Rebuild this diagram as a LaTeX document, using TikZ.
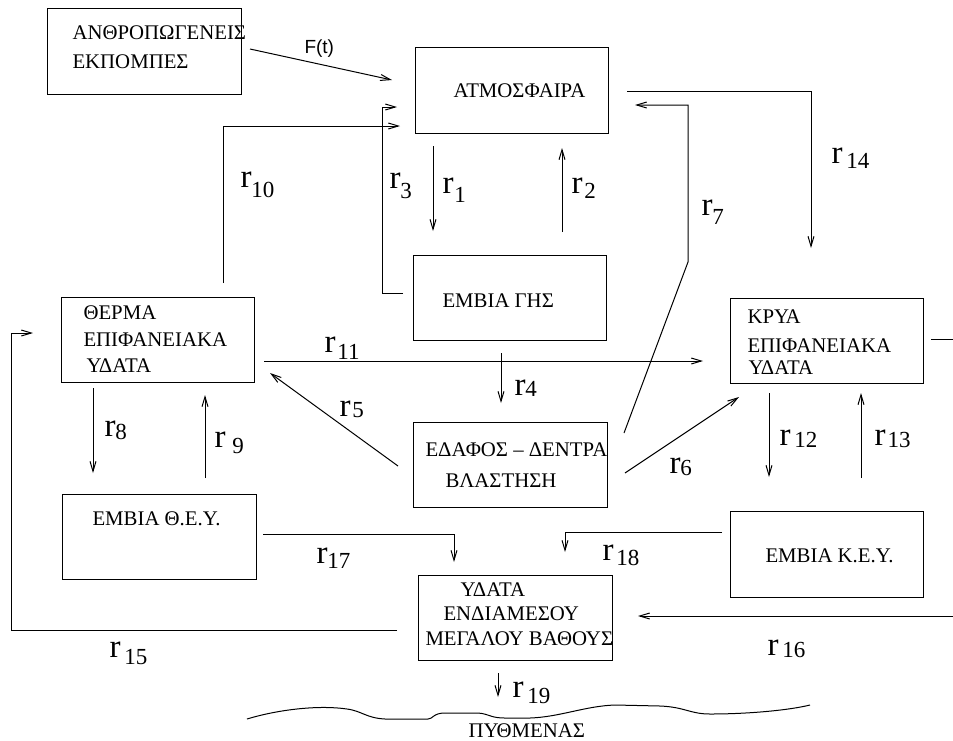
\documentclass[tikz,border=0pt]{standalone}
\usepackage{fontspec}
\setmainfont{Liberation Serif}
\newfontfamily\sansf{Liberation Sans}
\usetikzlibrary{arrows.meta}
\newcommand{\rlab}[3]{\fontsize{33}{33}\selectfont r\hspace{#3pt}\raisebox{-#2pt}{\fontsize{23}{23}\selectfont #1}}
\begin{document}
\begin{tikzpicture}[x=1pt,y=-1pt,line width=1pt,
  box/.style={draw,line width=1pt,inner sep=0pt,minimum width=#1},
  boxtxt/.style={anchor=base west,inner sep=0pt,font=\fontsize{20.8}{20.8}\selectfont},
  lab/.style={anchor=base west,inner sep=0pt},
  arr/.style={-{Straight Barb[length=10pt,width=6pt]}},
  ln/.style={line width=1pt}]
\useasboundingbox (0,0) rectangle (953,740);

% boxes
\node[box=194pt,minimum height=86pt] (anthro) at (144,51) {};
\node[box=193pt,minimum height=86pt] (atmo) at (511.5,90) {};
\node[box=193pt,minimum height=85pt] (gis) at (509.5,297.5) {};
\node[box=193pt,minimum height=85pt] (therma) at (157.5,339.5) {};
\node[box=193pt,minimum height=85pt] (krya) at (826.5,340.5) {};
\node[box=194pt,minimum height=85pt] (edafos) at (510,464.5) {};
\node[box=194pt,minimum height=85pt] (embth) at (159,536.5) {};
\node[box=193pt,minimum height=86pt] (embk) at (826.5,554) {};
\node[box=194pt,minimum height=85pt] (ydata) at (515,617.5) {};

% box texts
\node[boxtxt] (t1a) at (72,39) {ΑΝΘΡΟΠΩΓΕΝΕΙΣ};
\node[boxtxt] (t1b) at (72,68) {ΕΚΠΟΜΠΕΣ};
\node[boxtxt] (t2) at (453,97) {ΑΤΜΟΣΦΑΙΡΑ};
\node[boxtxt] (t3) at (442,307) {ΕΜΒΙΑ ΓΗΣ};
\node[boxtxt] (t4a) at (83,319) {ΘΕΡΜΑ};
\node[boxtxt] (t4b) at (83,346) {ΕΠΙΦΑΝΕΙΑΚΑ};
\node[boxtxt] (t4c) at (86,372) {ΥΔΑΤΑ};
\node[boxtxt] (t5a) at (747,323) {ΚΡΥΑ};
\node[boxtxt] (t5b) at (747,352) {ΕΠΙΦΑΝΕΙΑΚΑ};
\node[boxtxt] (t5c) at (748,374) {ΥΔΑΤΑ};
\node[boxtxt] (t6a) at (425,456) {ΕΔΑΦΟΣ – ΔΕΝΤΡΑ};
\node[boxtxt] (t6b) at (445,487) {ΒΛΑΣΤΗΣΗ};
\node[boxtxt] (t7) at (92,525) {ΕΜΒΙΑ Θ.Ε.Υ.};
\node[boxtxt] (t8) at (765,562) {ΕΜΒΙΑ Κ.Ε.Υ.};
\node[boxtxt] (t9a) at (460,596) {ΥΔΑΤΑ};
\node[boxtxt] (t9b) at (443,620) {ΕΝΔΙΑΜΕΣΟΥ};
\node[boxtxt] (t9c) at (425,645) {ΜΕΓΑΛΟΥ ΒΑΘΟΥΣ};
\node[boxtxt] (t10) at (468,737) {ΠΥΘΜΕΝΑΣ};
\node[lab,font=\sansf\fontsize{19}{19}\selectfont] (ft) at (304,53) {F(t)};

% connector end points
\coordinate (Fs) at (250,49);   \coordinate (Fe) at (392,80);
\coordinate (r10s) at (223,283); \coordinate (r10c) at (223,126); \coordinate (r10e) at (400,126);
\coordinate (r3s) at (403,293); \coordinate (r3c1) at (382,293); \coordinate (r3c2) at (382,107); \coordinate (r3e) at (397,107);
\coordinate (r1s) at (433,146); \coordinate (r1e) at (433,231);
\coordinate (r2s) at (562,232); \coordinate (r2e) at (562,148);
\coordinate (r7s) at (624,433); \coordinate (r7c1) at (688,262); \coordinate (r7c2) at (688,105); \coordinate (r7e) at (635,105);
\coordinate (r14s) at (627,91); \coordinate (r14c) at (811,91); \coordinate (r14e) at (811,248);
\coordinate (r11s) at (264,361); \coordinate (r11e) at (703,361);
\coordinate (r4s) at (501,353); \coordinate (r4e) at (501,403);
\coordinate (r5s) at (398,466); \coordinate (r5e) at (270,373);
\coordinate (r6s) at (625,473); \coordinate (r6e) at (739,397);
\coordinate (sts) at (931,339); \coordinate (ste) at (953,339);
\coordinate (r12s) at (769,393); \coordinate (r12e) at (769,477);
\coordinate (r13s) at (861,478); \coordinate (r13e) at (861,393);
\coordinate (r8s) at (93,388); \coordinate (r8e) at (93,473);
\coordinate (r9s) at (205,478); \coordinate (r9e) at (205,395);
\coordinate (r17s) at (263,534); \coordinate (r17c) at (454,534); \coordinate (r17e) at (454,562);
\coordinate (r18s) at (722,532); \coordinate (r18c) at (565,532); \coordinate (r18e) at (565,552);
\coordinate (r16s) at (953,616); \coordinate (r16e) at (638,616);
\coordinate (r15s) at (397,630); \coordinate (r15c1) at (11,630); \coordinate (r15c2) at (11,333); \coordinate (r15e) at (33,333);
\coordinate (r19s) at (498,673); \coordinate (r19e) at (498,697);

% connectors
\draw[arr] (Fs) -- (Fe);
\draw[arr] (r10s) -- (r10c) -- (r10e);
\draw[arr] (r3s) -- (r3c1) -- (r3c2) -- (r3e);
\draw[arr] (r1s) -- (r1e);
\draw[arr] (r2s) -- (r2e);
\draw[arr] (r7s) -- (r7c1) -- (r7c2) -- (r7e);
\draw[arr] (r14s) -- (r14c) -- (r14e);
\draw[arr] (r11s) -- (r11e);
\draw[arr] (r4s) -- (r4e);
\draw[arr] (r5s) -- (r5e);
\draw[arr] (r6s) -- (r6e);
\draw[ln] (sts) -- (ste);
\draw[arr] (r12s) -- (r12e);
\draw[arr] (r13s) -- (r13e);
\draw[arr] (r8s) -- (r8e);
\draw[arr] (r9s) -- (r9e);
\draw[arr] (r17s) -- (r17c) -- (r17e);
\draw[arr] (r18s) -- (r18c) -- (r18e);
\draw[arr] (r16s) -- (r16e);
\draw[arr] (r15s) -- (r15c1) -- (r15c2) -- (r15e);
\draw[arr] (r19s) -- (r19e);

% sea bottom curve
\draw[ln] (247,719) .. controls (280,709) and (320,705) .. (347,709)
  .. controls (362,711) and (366,718) .. (385,719) -- (428,719)
  .. controls (433,719) and (433,713) .. (445,713) -- (478,713)
  .. controls (490,714) and (490,718) .. (505,718) -- (530,718)
  .. controls (560,717) and (585,706) .. (615,705) -- (660,706)
  .. controls (685,707) and (690,714) .. (710,714)
  .. controls (750,714) and (790,710) .. (810,705);

% rate labels
\node[lab] (l10) at (240,187) {\rlab{10}{10}{0}};
\node[lab] (l3) at (389,188) {\rlab{3}{10}{0}};
\node[lab] (l1) at (442,193) {\rlab{1}{9}{1}};
\node[lab] (l2) at (571,193) {\rlab{2}{5}{2}};
\node[lab] (l7) at (701,215) {\rlab{7}{9}{0}};
\node[lab] (l14) at (831,163) {\rlab{14}{5}{4}};
\node[lab] (l11) at (324,352) {\rlab{11}{7}{2}};
\node[lab] (l5) at (339,416) {\rlab{5}{1}{2}};
\node[lab] (l8) at (104,436) {\rlab{8}{3}{0}};
\node[lab] (l9) at (214,447) {\rlab{9}{6}{7}};
\node[lab] (l4) at (514,395) {\rlab{4}{1}{0}};
\node[lab] (l6) at (669,473) {\rlab{6}{2}{0}};
\node[lab] (l12) at (779,445) {\rlab{12}{2}{4}};
\node[lab] (l13) at (874,445) {\rlab{13}{2}{2}};
\node[lab] (l17) at (316,563) {\rlab{17}{5}{0}};
\node[lab] (l18) at (602,560) {\rlab{18}{5}{3}};
\node[lab] (l15) at (109,657) {\rlab{15}{7}{4}};
\node[lab] (l16) at (767,655) {\rlab{16}{2}{4}};
\node[lab] (l19) at (512,697) {\rlab{19}{6}{4}};
\end{tikzpicture}
\end{document}
